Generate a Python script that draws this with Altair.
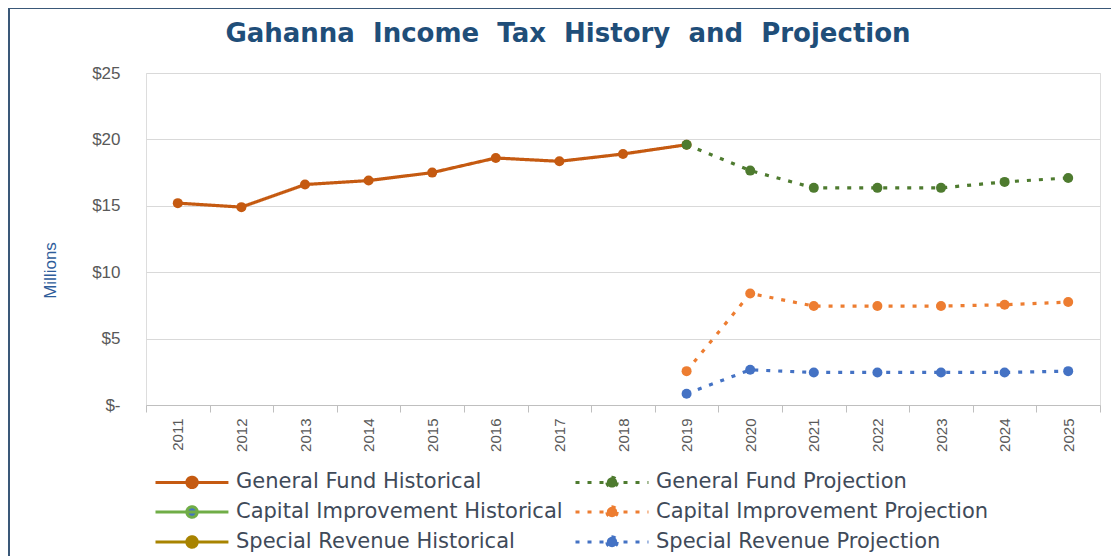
import altair as alt
import pandas as pd

years = list(range(2011, 2026))
gf_hist = [15.2, 14.9, 16.6, 16.9, 17.5, 18.6, 18.35, 18.9, 19.6, None, None, None, None, None, None]
gf_proj = [None] * 8 + [19.6, 17.65, 16.35, 16.35, 16.35, 16.8, 17.1]
ci_hist = [None] * 15
ci_proj = [None] * 8 + [2.55, 8.4, 7.45, 7.45, 7.45, 7.55, 7.75]
sr_hist = [None] * 15
sr_proj = [None] * 8 + [0.85, 2.65, 2.45, 2.45, 2.45, 2.45, 2.55]

# legend fills column by column: historical column, then projection column
series_names = [
    "General Fund Historical", "Capital Improvement Historical",
    "Special Revenue Historical", "General Fund Projection",
    "Capital Improvement Projection", "Special Revenue Projection",
]
series_values = [gf_hist, ci_hist, sr_hist, gf_proj, ci_proj, sr_proj]
line_colors = ["#C55A11", "#70AD47", "#A88300", "#4E7B2F", "#ED7D31", "#4472C4"]
marker_colors = ["#C55A11", "#4472C4", "#A88300", "#4E7B2F", "#ED7D31", "#4472C4"]
dash_styles = [[1, 0], [1, 0], [1, 0], [4, 8], [4, 8], [4, 8]]
y_ticks = [0, 5, 10, 15, 20, 25]

rows = []
for name, vals in zip(series_names, series_values):
    for yr, v in zip(years, vals):
        if v is not None:
            rows.append({"year": yr, "series": name, "value": v})
df = pd.DataFrame(rows)

# legend symbol: line with a dot in the middle
sym_path = ("M-1,0L4.03,0M1.88,0A0.36,0.36,0,1,1,1.16,0"
            "A0.36,0.36,0,1,1,1.88,0Z")

leg = alt.Legend(
    title=None, orient="none", legendX=8, legendY=393, columns=2,
    columnPadding=6, rowPadding=2, symbolType=sym_path, symbolSize=841,
    symbolStrokeWidth=3, labelFont="DejaVu Sans", labelFontSize=21,
    labelColor="#3F4A59", labelOffset=50, labelLimit=500,
)

x_enc = alt.X(
    "year:O",
    scale=alt.Scale(type="band", paddingInner=0, paddingOuter=0),
    axis=alt.Axis(
        title=None, labelAngle=270, labelAlign="right", labelBaseline="middle",
        labelFont="Liberation Sans", labelFontSize=15, labelColor="#595959",
        labelPadding=6, domainColor="#BFBFBF", tickColor="#BFBFBF",
        tickSize=7, tickBand="extent", grid=False,
    ),
)
y_enc = alt.Y(
    "value:Q",
    scale=alt.Scale(domain=[0, 25], nice=False, zero=True),
    axis=alt.Axis(
        values=y_ticks, title="Millions",
        labelExpr="datum.value == 0 ? '$-' : '$' + datum.value",
        labelFont="Liberation Sans", labelFontSize=17, labelColor="#595959",
        labelPadding=26, ticks=False, domain=False, grid=True,
        gridColor="#D9D9D9", gridWidth=1,
        titleFont="Liberation Sans", titleFontSize=17, titleFontWeight="normal",
        titleColor="#2E5C9A", titleAngle=270, titleAlign="center",
        titleBaseline="middle", titleX=-96, titleY=197,
    ),
)

base = alt.Chart(df)
lines = base.mark_line(strokeWidth=3.2).encode(
    x=x_enc, y=y_enc,
    stroke=alt.Stroke("series:N", scale=alt.Scale(domain=series_names, range=line_colors), legend=leg),
    strokeDash=alt.StrokeDash("series:N", scale=alt.Scale(domain=series_names, range=dash_styles), legend=leg),
)
points = base.mark_circle(size=100, opacity=1).encode(
    x=x_enc, y=y_enc,
    fill=alt.Fill("series:N", scale=alt.Scale(domain=series_names, range=marker_colors), legend=leg),
)

border_data = alt.Data(values=[{"k": 1}])
border_left = alt.Chart(border_data).mark_rule(color="#3A5878", strokeWidth=2).encode(
    x=alt.value(-137), y=alt.value(-66), y2=alt.value(484)
)
border_top = alt.Chart(border_data).mark_rule(color="#3A5878", strokeWidth=2).encode(
    x=alt.value(-138), x2=alt.value(970), y=alt.value(-65)
)

chart = alt.layer(lines, points, border_left, border_top).properties(
    width=954, height=332,
    padding={"left": 138, "top": 65, "right": 11, "bottom": 151},
    autosize=alt.AutoSizeParams(type="none"),
    title=alt.Title(
        text="Gahanna\u00a0\u00a0Income\u00a0\u00a0Tax\u00a0\u00a0History\u00a0\u00a0and\u00a0\u00a0Projection",
        font="DejaVu Sans", fontSize=26, fontWeight="bold", color="#1F4E79",
        anchor="middle", dx=-55, offset=-62, baseline="alphabetic",
    ),
).configure_view(stroke=None).configure(background="white")

chart.save("out.html", embed_options={"renderer": "svg", "actions": False})
